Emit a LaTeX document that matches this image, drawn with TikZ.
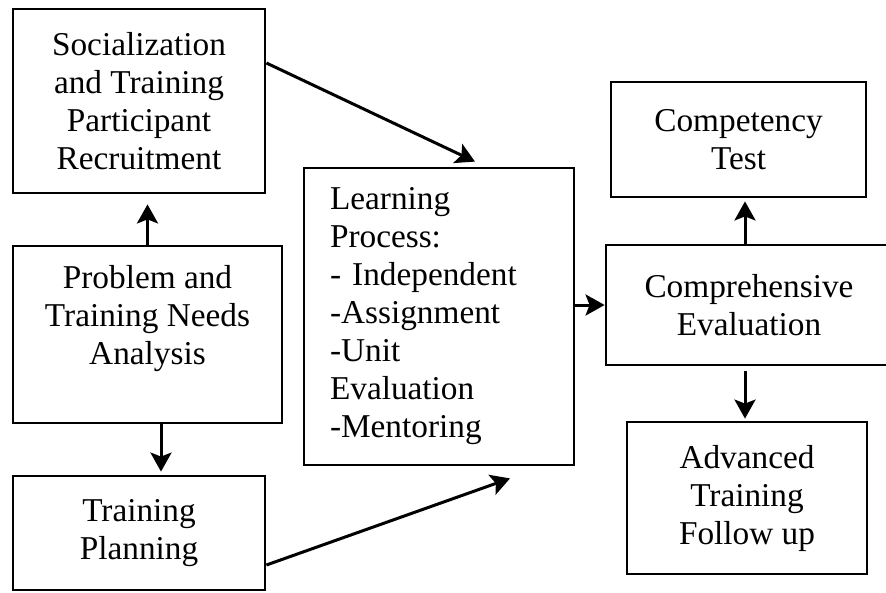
\documentclass[tikz,border=0pt]{standalone}
\usepackage{fontspec}
\setmainfont{Liberation Serif}
\usetikzlibrary{arrows.meta}
\begin{document}
\begin{tikzpicture}[x=1pt,y=-1pt,
  box/.style={draw, line width=2.8pt, align=center, inner sep=2pt,
    font=\fontsize{33.3}{38}\selectfont},
  arr/.style={line width=3pt, -{Stealth[length=19pt,width=21pt,inset=4pt]}}]

\useasboundingbox (0,0) rectangle (886,592);

% Boxes
\node[box, minimum width=252pt, minimum height=184pt] (soc) at (139,101)
  {Socialization\\and Training\\Participant\\Recruitment};
\node[box, minimum width=269pt, minimum height=177pt, text depth=40pt] (prob) at (147.5,334.5)
  {Problem and\\Training Needs\\Analysis};
\node[box, minimum width=252pt, minimum height=114pt] (plan) at (139,533)
  {Training\\Planning};
\node[box, minimum width=270pt, minimum height=297pt, align=left,
  text width=218pt, inner xsep=26pt] (learn) at (439,316.5)
  {Learning\\Process:\\- Independent\\-Assignment\\-Unit\\Evaluation\\-Mentoring};
\node[box, minimum width=286pt, minimum height=120pt] (comp) at (749,305)
  {Comprehensive\\Evaluation};      % cut off at the right edge
\node[box, minimum width=255pt, minimum height=115pt] (test) at (738.5,139.5)
  {Competency\\Test};
\node[box, minimum width=240pt, minimum height=152pt] (adv) at (747,498)
  {Advanced\\Training\\Follow up};

% Arrows
\draw[arr, shorten >=10pt] (prob.north) -- (prob.north |- soc.south);
\draw[arr, shorten >=3pt] ([xshift=13.5pt]prob.south) -- ([xshift=13.5pt]prob.south |- plan.north);
\draw[arr] ([yshift=38pt]soc.east) -- ([xshift=36pt,yshift=5pt]learn.north);
\draw[arr] ([yshift=-32pt]plan.east) -- ([xshift=71pt,yshift=-12pt]learn.south);
\draw[arr] (learn.east |- comp.west) -- (comp.west);
\draw[arr, shorten >=3pt] ([xshift=-4pt]comp.north) -- ([xshift=-4pt]comp.north |- test.south);
\draw[arr, shorten <=5pt, shorten >=2pt] ([xshift=-4pt]comp.south) -- ([xshift=-4pt]comp.south |- adv.north);

\end{tikzpicture}
\end{document}
